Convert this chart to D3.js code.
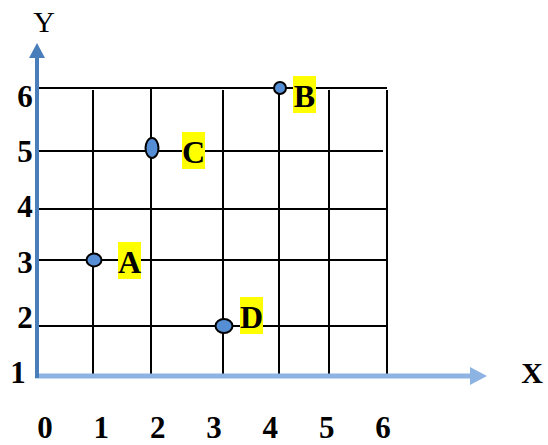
<!DOCTYPE html>
<html>
<head>
<meta charset="utf-8">
<script src="https://cdn.jsdelivr.net/npm/d3@7"></script>
<style>
  body { margin: 0; background: #fff; }
  text { font-family: "Liberation Serif", "Times New Roman", serif; }
</style>
</head>
<body>
<div class="chart"></div>
<script>
	var xTicks = [0, 1, 2, 3, 4, 5, 6];
	var yTicks = [1, 2, 3, 4, 5, 6];
	var gridX = [1, 2, 3, 4, 5, 6];
	var gridY = [2, 3, 4, 5, 6];
	var pointNames = ["A", "C", "B", "D"];
	var pointX = [1, 2, 4, 3];
	var pointY = [3, 5, 6, 2];

	// style per point: ellipse radii and label box offset
	var pointStyle = {
		A: {rx: 7.5, ry: 6.5, dx: 25, dy: -18},
		C: {rx: 6.5, ry: 10, dx: 31, dy: -19},
		B: {rx: 6, ry: 6, dx: 14, dy: -12},
		D: {rx: 8.5, ry: 7, dx: 17, dy: -29}
	};

	var svg = d3.select(".chart")
		.append("svg")
		.attr("width", 548)
		.attr("height", 445);

	// the grid is not evenly spaced in the picture
	var x = d3.scaleLinear().domain(xTicks).range([37, 93, 151, 223, 279, 329, 387]);
	var y = d3.scaleLinear().domain(yTicks).range([376, 326, 260, 209, 151, 88]);

	// tick labels sit on their own even spacing
	var xLab = d3.scaleLinear().domain([0, 6]).range([45, 383]);
	var yLab = d3.scaleLinear().domain([1, 6]).range([383, 107]);

	// grid lines
	svg.selectAll(".hline")
		.data(gridY)
		.enter()
		.append("line")
		.attr("x1", x(0))
		.attr("x2", function(d){ return d == 5 ? 383 : x(6); })
		.attr("y1", function(d){ return y(d); })
		.attr("y2", function(d){ return y(d); })
		.attr("stroke", "#000")
		.attr("stroke-width", 2);

	svg.selectAll(".vline")
		.data(gridX)
		.enter()
		.append("line")
		.attr("x1", function(d){ return x(d); })
		.attr("x2", function(d){ return x(d); })
		.attr("y1", function(d){ return d == 2 ? y(6) : y(6) + 2; })
		.attr("y2", y(1) - 1)
		.attr("stroke", "#000")
		.attr("stroke-width", 2);

	// x axis with arrow
	svg.append("line")
		.attr("x1", 35)
		.attr("x2", 471)
		.attr("y1", y(1))
		.attr("y2", y(1))
		.attr("stroke", "#8db3e2")
		.attr("stroke-width", 5);
	svg.append("path")
		.attr("d", "M470," + (y(1) - 9) + " L487," + y(1) + " L470," + (y(1) + 9) + " Z")
		.attr("fill", "#8db3e2");

	// y axis with arrow
	svg.append("line")
		.attr("x1", x(0))
		.attr("x2", x(0))
		.attr("y1", 378)
		.attr("y2", 57)
		.attr("stroke", "#4a7ebb")
		.attr("stroke-width", 4);
	svg.append("path")
		.attr("d", "M" + (x(0) - 8) + ",58 L" + x(0) + ",43 L" + (x(0) + 8) + ",58 Z")
		.attr("fill", "#4a7ebb");

	// axis titles
	svg.append("text")
		.attr("x", 44)
		.attr("y", 32)
		.attr("text-anchor", "middle")
		.attr("font-size", "30px")
		.attr("fill", "#000")
		.text("Y");
	svg.append("text")
		.attr("x", 532)
		.attr("y", 383)
		.attr("text-anchor", "middle")
		.attr("font-size", "30px")
		.attr("font-weight", "bold")
		.attr("fill", "#000")
		.text("X");

	// tick labels
	svg.selectAll(".xlab")
		.data(xTicks)
		.enter()
		.append("text")
		.attr("x", function(d){ return xLab(d); })
		.attr("y", 438)
		.attr("text-anchor", "middle")
		.attr("font-size", "31px")
		.attr("font-weight", "bold")
		.text(function(d){ return d; });

	svg.selectAll(".ylab")
		.data(yTicks)
		.enter()
		.append("text")
		.attr("x", function(d){ return d == 1 ? 18 : 25; })
		.attr("y", function(d){ return yLab(d); })
		.attr("text-anchor", "middle")
		.attr("font-size", "31px")
		.attr("font-weight", "bold")
		.text(function(d){ return d; });

	// points
	var points = pointNames.map(function(n, i){
		return {name: n, x: pointX[i], y: pointY[i]};
	});

	svg.selectAll(".pt")
		.data(points)
		.enter()
		.append("ellipse")
		.attr("cx", function(d){ return x(d.x) + 1; })
		.attr("cy", function(d){ return y(d.y) - (d.name == "C" ? 3 : 0); })
		.attr("rx", function(d){ return pointStyle[d.name].rx; })
		.attr("ry", function(d){ return pointStyle[d.name].ry; })
		.attr("fill", "#558ed5")
		.attr("stroke", "#000")
		.attr("stroke-width", 2);

	// labels on yellow boxes
	svg.selectAll(".box")
		.data(points)
		.enter()
		.append("rect")
		.attr("x", function(d){ return x(d.x) + pointStyle[d.name].dx; })
		.attr("y", function(d){ return y(d.y) + pointStyle[d.name].dy; })
		.attr("width", 23)
		.attr("height", 37)
		.attr("fill", "#ffff00");

	svg.selectAll(".lab")
		.data(points)
		.enter()
		.append("text")
		.attr("x", function(d){ return x(d.x) + pointStyle[d.name].dx + 11.5; })
		.attr("y", function(d){ return y(d.y) + pointStyle[d.name].dy + 31; })
		.attr("text-anchor", "middle")
		.attr("font-size", "32px")
		.attr("font-weight", "bold")
		.text(function(d){ return d.name; });
</script>
</body>
</html>
